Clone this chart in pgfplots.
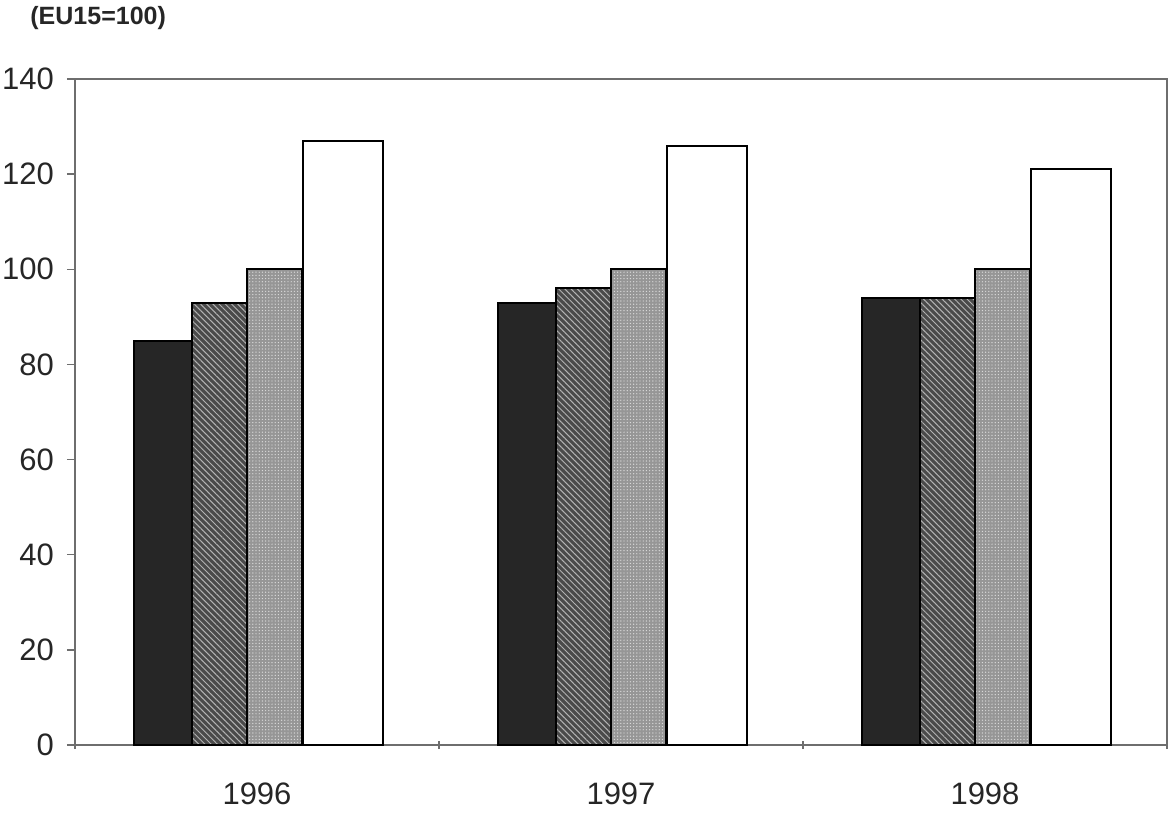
\documentclass[border=0pt]{standalone}
\usepackage{pgfplots}
\pgfplotsset{compat=1.18}
\usepackage{fontspec}
\setmainfont{Liberation Sans}
\usetikzlibrary{patterns,patterns.meta}
\definecolor{barblack}{HTML}{262626}
\definecolor{bardark}{HTML}{4A4A4A}
\definecolor{barlight}{HTML}{969696}
\definecolor{axisgray}{HTML}{6E6E6E}
\begin{document}
\begin{tikzpicture}
\useasboundingbox (-37.5pt,-34pt) rectangle (548pt,372.5pt);
\begin{axis}[
  at={(0,0)}, anchor=south west,
  scale only axis,
  width=546pt, height=333pt,
  xmin=-0.5, xmax=2.5,
  ymin=0, ymax=140,
  ybar,
  ytick={0,20,...,140},
  xtick={-0.5,0.5,1.5,2.5},
  xticklabels={},
  xtick pos=bottom, ytick pos=left,
  x tick style={draw=axisgray, line width=0.7pt},
  xtick align=center,
  major tick length=4pt,
  extra x ticks={0,1,2},
  extra x tick labels={1996,1997,1998},
  extra x tick style={major tick length=0pt, xticklabel style={yshift=-15.5pt}},
  ytick align=outside,
  y tick style={draw=axisgray, line width=0.7pt},
  axis line style={draw=axisgray, line width=0.8pt},
  tick label style={font=\fontsize{15.5}{19}\selectfont, text=black!85},
  /pgf/number format/assume math mode=true,
  yticklabel style={xshift=-3pt},
  clip=false,
]
\addplot[fill=barblack, draw=black, line width=1pt, bar width=0.162, bar shift=-0.258]
  coordinates {(0,85) (1,93) (2,94)};
\addplot[fill=bardark, draw=black, line width=1pt, bar width=0.151, bar shift=-0.103,
  postaction={pattern={Lines[angle=-45,distance=2.2pt,line width=0.5pt]}, pattern color=gray!60}]
  coordinates {(0,93) (1,96) (2,94)};
\addplot[fill=barlight, draw=black, line width=1pt, bar width=0.151, bar shift=0.048,
  postaction={pattern={Dots[distance=1.6pt,radius=0.35pt]}, pattern color=gray!30}]
  coordinates {(0,100) (1,100) (2,100)};
\addplot[fill=white, draw=black, line width=1pt, bar width=0.22, bar shift=0.235]
  coordinates {(0,127) (1,126) (2,121)};
\end{axis}
\node[anchor=base west, font=\bfseries\fontsize{12.5}{14}\selectfont, text=black!85, inner sep=0pt] at (-22.5pt,360pt) {(EU15=100)};
\end{tikzpicture}
\end{document}
